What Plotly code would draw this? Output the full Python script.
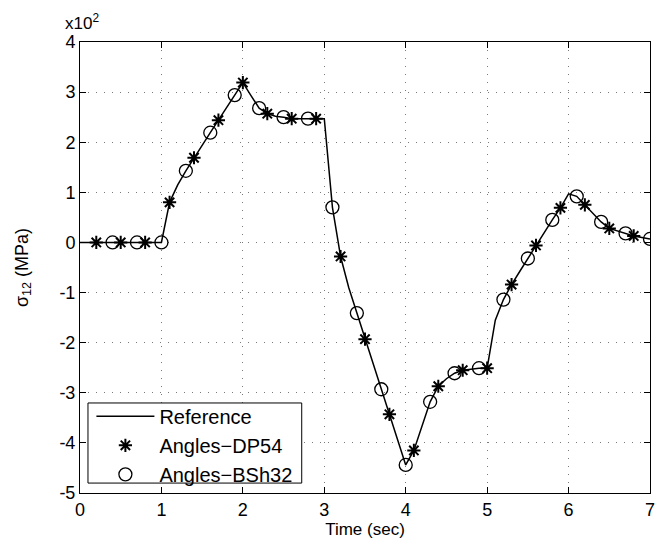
import plotly.graph_objects as go

# Reference solution (MPa), sampled every 0.1 s
ref_t = [round(0.1 * i, 1) for i in range(71)]
ref_s = [0, 0, 0, 0, 0, 0, 0, 0, 0, 0,
         0, 80, 115, 143, 169, 193, 219, 244, 269, 294,
         319, 293, 268, 257, 252, 250, 247, 247, 247, 247,
         247, 70, -28, -90, -141, -193, -243, -293, -343, -393,
         -444, -415, -365, -318, -287, -272, -261, -255, -253, -251,
         -251, -155, -114, -84, -58, -32, -6, 19, 45, 69,
         97, 92, 75, 58, 41, 28, 23, 18, 13, 10,
         7]

# Angles-DP54 (stars)
dp_t = [0.2, 0.5, 0.8, 1.1, 1.4, 1.7, 2.0, 2.3, 2.6, 2.9, 3.2, 3.5,
        3.8, 4.1, 4.4, 4.7, 5.0, 5.3, 5.6, 5.9, 6.2, 6.5, 6.8]
dp_s = [0, 0, 0, 80, 169, 244, 319, 257, 247, 247, -28, -193,
        -343, -415, -287, -255, -251, -84, -6, 69, 75, 28, 13]

# Angles-BSh32 (circles)
bs_t = [0.4, 0.7, 1.0, 1.3, 1.6, 1.9, 2.2, 2.5, 2.8, 3.1, 3.4, 3.7,
        4.0, 4.3, 4.6, 4.9, 5.2, 5.5, 5.8, 6.1, 6.4, 6.7, 7.0]
bs_s = [0, 0, 0, 143, 219, 294, 268, 250, 247, 70, -141, -293,
        -444, -318, -261, -251, -114, -32, 45, 92, 41, 18, 7]

y_ticks = [-500, -400, -300, -200, -100, 0, 100, 200, 300, 400]
y_ticktext = ["-5", "-4", "-3", "-2", "-1", "0", "1", "2", "3", "4"]
x_ticks = [0, 1, 2, 3, 4, 5, 6, 7]

FONT = "Liberation Sans, Arial, Helvetica, sans-serif"

fig = go.Figure()
fig.add_trace(go.Scatter(x=ref_t, y=ref_s, mode="lines", name="Reference",
                         line=dict(color="black", width=1.5)))
fig.add_trace(go.Scatter(x=dp_t, y=dp_s, mode="markers", name="Angles\u2212DP54",
                         marker=dict(symbol="asterisk-open", size=11, color="black",
                                     line=dict(color="black", width=2))))
fig.add_trace(go.Scatter(x=bs_t, y=bs_s, mode="markers", name="Angles\u2212BSh32",
                         marker=dict(symbol="circle-open", size=13, color="black",
                                     line=dict(color="black", width=1.3))))

axis_common = dict(showline=True, linecolor="black", linewidth=1, mirror="ticks",
                   ticks="inside", ticklen=6, tickcolor="black", automargin=False,
                   showgrid=True, gridcolor="#7a7a7a", griddash="1px,7px", gridwidth=1,
                   zeroline=False, tickfont=dict(size=18, color="black", family=FONT))

fig.update_xaxes(range=[0, 7], tickvals=x_ticks,
                 title=dict(text="Time (sec)", font=dict(size=17, color="black", family=FONT),
                            standoff=0),
                 **axis_common)
fig.update_yaxes(range=[-500, 400], tickvals=y_ticks, ticktext=y_ticktext,
                 title=dict(text="\u03c3<sub>12</sub> (MPa)",
                            font=dict(size=18, color="black", family=FONT), standoff=26),
                 **axis_common)

fig.add_annotation(text="x10<sup>2</sup>", xref="paper", yref="paper",
                   x=-0.03, y=1.0, xanchor="left", yanchor="bottom", yshift=7,
                   showarrow=False,
                   font=dict(size=17, color="black", family=FONT))

# Legend frame
fig.add_shape(type="rect", xref="paper", yref="paper",
              x0=0.014, x1=0.389, y0=0.022, y1=0.1996,
              line=dict(color="black", width=1), fillcolor="white", layer="above")

fig.update_layout(
    width=661, height=540,
    margin=dict(l=72, r=19, t=34, b=55, autoexpand=False),
    paper_bgcolor="white", plot_bgcolor="white",
    font=dict(family=FONT, color="black"),
    legend=dict(x=0.02, y=0.2132, xanchor="left", yanchor="top",
                bgcolor="rgba(0,0,0,0)", borderwidth=0,
                font=dict(size=20, color="black", family=FONT),
                tracegroupgap=0, itemwidth=58),
    showlegend=True,
)

fig.write_html("out.html")
